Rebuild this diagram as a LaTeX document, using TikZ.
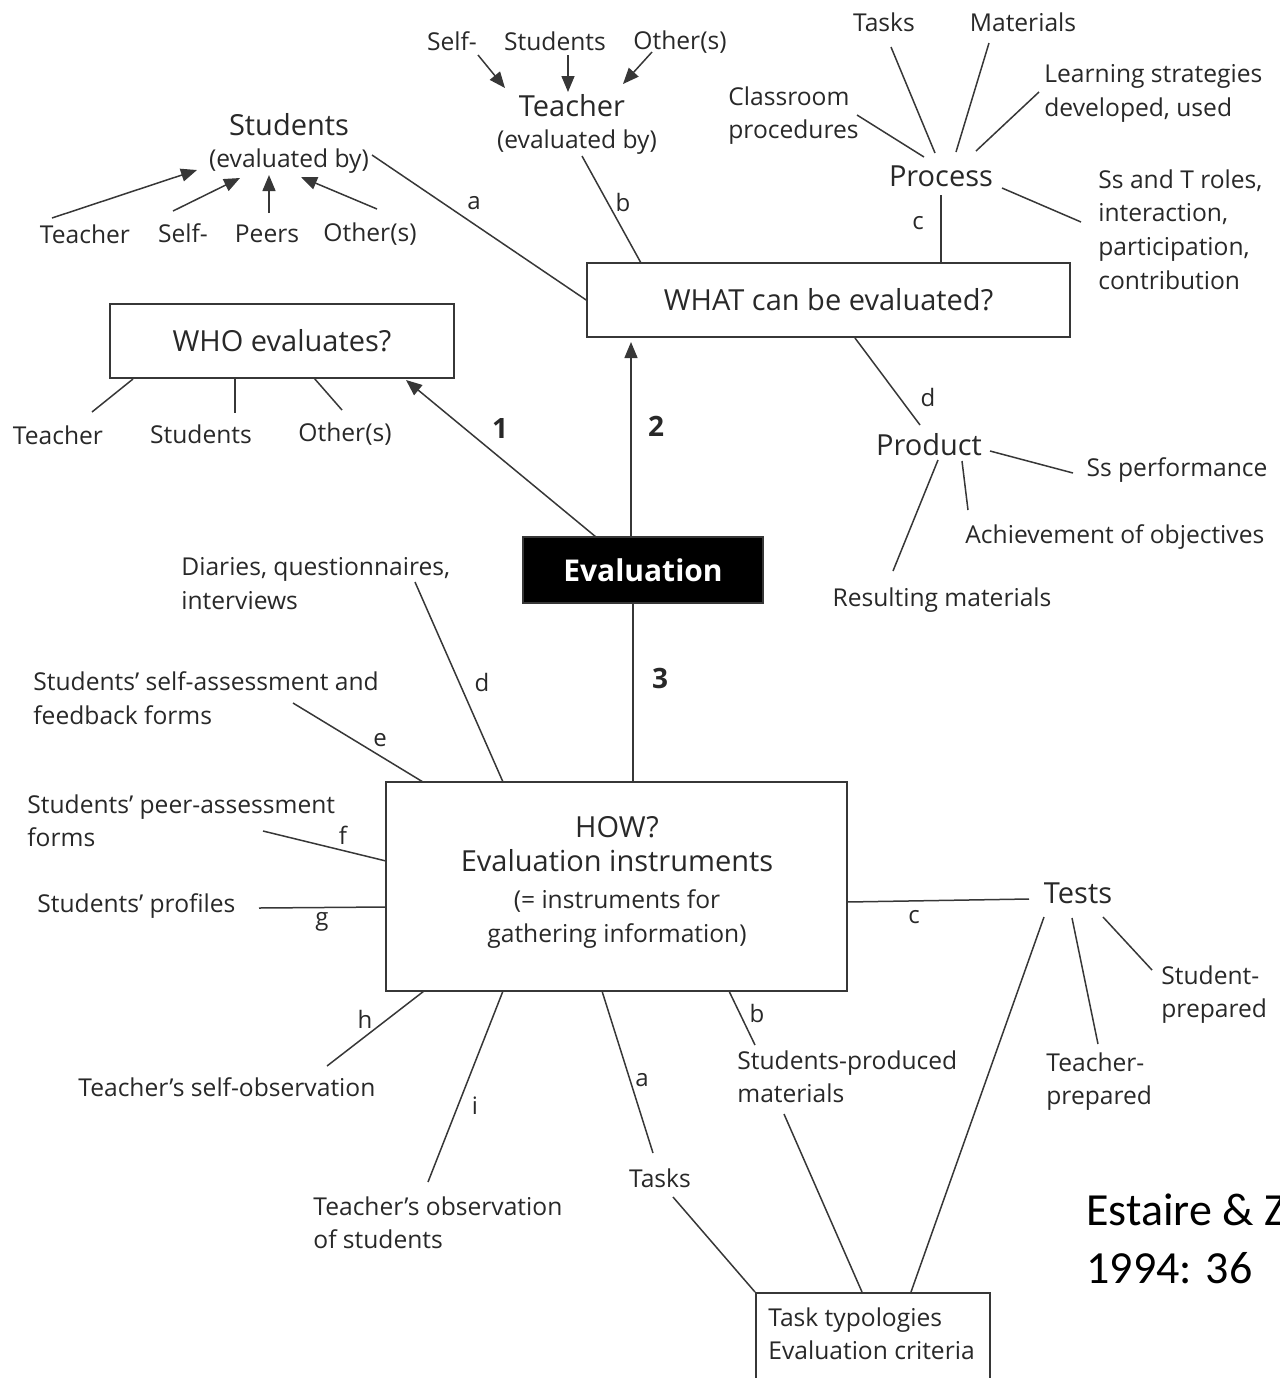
\documentclass[tikz,border=0pt]{standalone}
\usepackage{fontspec}
\setmainfont{Open Sans}
\newfontfamily\citefont{Carlito}
\usetikzlibrary{arrows.meta}
\definecolor{ink}{RGB}{40,40,40}
\definecolor{wire}{RGB}{55,55,55}

\begin{document}
\begin{tikzpicture}[x=0.5pt,y=-0.5pt,
  txt/.style={inner sep=0pt, text=ink, font=\fontsize{12.3}{16.9}\selectfont, align=left},
  big/.style={inner sep=0pt, text=ink, font=\fontsize{14.5}{17}\selectfont},
  lbl/.style={inner sep=0pt, text=ink, font=\fontsize{12}{14}\selectfont},
  num/.style={inner sep=0pt, text=ink, font=\bfseries\fontsize{14}{16}\selectfont},
  box/.style={draw=wire, line width=0.8pt, inner sep=0pt, text=ink},
  link/.style={draw=wire, line width=0.75pt},
  arr/.style={link, -{Triangle[length=8pt,width=6.5pt]}},
  cite/.style={inner sep=0pt, text=black, font=\citefont\fontsize{23}{29}\selectfont}
]
\useasboundingbox (0,0) rectangle (1280,1378);
\clip (0,0) rectangle (1280,1378);

% ---------- central boxes ----------
\node[box, fill=black, text=white, minimum width=120pt, minimum height=33pt,
      font=\bfseries\fontsize{15}{17}\selectfont] (eval) at (643,570) {Evaluation};
\node[box, minimum width=172pt, minimum height=37pt,
      font=\fontsize{14.5}{17}\selectfont] (who) at (282,341) {WHO evaluates?};
\node[box, minimum width=241.5pt, minimum height=37pt,
      font=\fontsize{14.5}{17}\selectfont] (what) at (828.5,300) {WHAT can be evaluated?};
\node[box, minimum width=230.5pt, minimum height=104.5pt] (how) at (616.5,886.5) {};
\node[inner sep=0pt, text=ink, align=center, font=\fontsize{12.3}{17}\selectfont] (howtxt) at (617,882)
  {{\fontsize{14.5}{17}\selectfont HOW?}\\
   {\fontsize{14.5}{17}\selectfont Evaluation instruments}\\[1.5pt]
   (= instruments for\\
   gathering information)};
\node[box, minimum width=117pt, minimum height=60pt, anchor=north west] (crit) at (755,1292) {};
\node[txt, anchor=north west] (crittxt) at (768,1307) {Task typologies\\Evaluation criteria};

% ---------- main branches ----------
\coordinate (e1) at (596,537);  \coordinate (w1) at (406,380);
\coordinate (e2) at (631,537);  \coordinate (w2) at (631,342);
\coordinate (e3) at (633,603);  \coordinate (h3) at (633,782);
\draw[arr] (e1) -- (w1);
\draw[arr] (e2) -- (w2);
\draw[link] (e3) -- (h3);
\node[num] (n1) at (500,428) {1};
\node[num] (n2) at (656,426) {2};
\node[num] (n3) at (660,678) {3};

% ---------- WHO evaluates ----------
\node[txt, anchor=base] (whoT) at (58,444) {Teacher};
\node[txt, anchor=base] (whoS) at (201,443) {Students};
\node[txt, anchor=base] (whoO) at (345,441) {Other(s)};
\coordinate (wT0) at (133,379); \coordinate (wT1) at (92,412);
\coordinate (wS0) at (235,379); \coordinate (wS1) at (235,413);
\coordinate (wO0) at (314,378); \coordinate (wO1) at (342,410);
\draw[link] (wT0) -- (wT1);
\draw[link] (wS0) -- (wS1);
\draw[link] (wO0) -- (wO1);

% ---------- Students (evaluated by) ----------
\node[big, anchor=base] (stu) at (289,135) {Students};
\node[txt, anchor=base] (stuby) at (289,167) {(evaluated by)};
\node[txt, anchor=base] (stuT) at (85,243) {Teacher};
\node[txt, anchor=base] (stuS) at (183,242) {Self-};
\node[txt, anchor=base] (stuP) at (267,242) {Peers};
\node[txt, anchor=base] (stuO) at (370,241) {Other(s)};
\coordinate (sT0) at (52,218);  \coordinate (sT1) at (197,170);
\coordinate (sS0) at (173,211); \coordinate (sS1) at (240,178);
\coordinate (sP0) at (269,213); \coordinate (sP1) at (269,175);
\coordinate (sO0) at (377,209); \coordinate (sO1) at (301,177);
\draw[arr] (sT0) -- (sT1);
\draw[arr] (sS0) -- (sS1);
\draw[arr] (sP0) -- (sP1);
\draw[arr] (sO0) -- (sO1);
\coordinate (la0) at (372,155);
\draw[link] (la0) -- (what.west);
\node[lbl] (la) at (474,203) {a};

% ---------- Teacher (evaluated by) ----------
\node[big, anchor=base] (tea) at (572,116) {Teacher};
\node[txt, anchor=base] (teaby) at (577,148) {(evaluated by)};
\node[txt, anchor=base] (teaS) at (452,50) {Self-};
\node[txt, anchor=base] (teaSt) at (555,50) {Students};
\node[txt, anchor=base] (teaO) at (680,49) {Other(s)};
\coordinate (tS0) at (478,55);  \coordinate (tS1) at (505,88);
\coordinate (tSt0) at (568,55); \coordinate (tSt1) at (568,92);
\coordinate (tO0) at (652,52);  \coordinate (tO1) at (623,84);
\draw[arr] (tS0) -- (tS1);
\draw[arr] (tSt0) -- (tSt1);
\draw[arr] (tO0) -- (tO1);
\coordinate (lb0) at (582,156); \coordinate (lb1) at (641,263);
\draw[link] (lb0) -- (lb1);
\node[lbl] (lb) at (623,202) {b};

% ---------- Process ----------
\node[big, anchor=base] (proc) at (941,186) {Process};
\node[txt, anchor=base] (pTasks) at (884,31) {Tasks};
\node[txt, anchor=base] (pMat) at (1023,31) {Materials};
\node[txt, anchor=north west] (pClass) at (728,86) {Classroom\\procedures};
\node[txt, anchor=north west] (pLearn) at (1044,64) {Learning strategies\\developed, used};
\node[txt, anchor=north west] (pRoles) at (1098,169) {Ss and T roles,\\interaction,\\participation,\\contribution};
\coordinate (pc0) at (857,115);  \coordinate (pc1) at (924,157);
\coordinate (pt0) at (891,47);   \coordinate (pt1) at (935,153);
\coordinate (pm0) at (989,43);   \coordinate (pm1) at (956,152);
\coordinate (pl0) at (1039,92);  \coordinate (pl1) at (976,151);
\coordinate (pr0) at (1002,188); \coordinate (pr1) at (1081,222);
\coordinate (pw0) at (941,195);  \coordinate (pw1) at (941,263);
\draw[link] (pc0) -- (pc1);
\draw[link] (pt0) -- (pt1);
\draw[link] (pm0) -- (pm1);
\draw[link] (pl0) -- (pl1);
\draw[link] (pr0) -- (pr1);
\draw[link] (pw0) -- (pw1);
\node[lbl] (lc) at (918,223) {c};

% ---------- Product ----------
\node[big, anchor=base] (prod) at (929,455) {Product};
\node[txt, anchor=base] (prPerf) at (1177,476) {Ss performance};
\node[txt, anchor=base west] (prAch) at (965,543) {Achievement of objectives};
\node[txt, anchor=base] (prRes) at (942,606) {Resulting materials};
\coordinate (dw0) at (855,338); \coordinate (dw1) at (920,425);
\coordinate (pp0) at (990,451); \coordinate (pp1) at (1073,473);
\coordinate (pa0) at (962,461); \coordinate (pa1) at (968,510);
\coordinate (pq0) at (938,460); \coordinate (pq1) at (893,571);
\draw[link] (dw0) -- (dw1);
\draw[link] (pp0) -- (pp1);
\draw[link] (pa0) -- (pa1);
\draw[link] (pq0) -- (pq1);
\node[lbl] (ld) at (928,397) {d};

% ---------- HOW: instruments ----------
\node[txt, anchor=north west] (iDia) at (181,557) {Diaries, questionnaires,\\interviews};
\node[txt, anchor=north west] (iSelf) at (33,671) {Students’ self-assessment and\\feedback forms};
\node[txt, anchor=north west] (iPeer) at (27,794) {Students’ peer-assessment\\forms};
\node[txt, anchor=base west] (iProf) at (37,912) {Students’ profiles};
\node[txt, anchor=base west] (iTso) at (78,1096) {Teacher’s self-observation};
\node[txt, anchor=north west] (iTos) at (313,1196) {Teacher’s observation\\of students};
\node[txt, anchor=base] (iTasks) at (660,1187) {Tasks};
\node[txt, anchor=north west] (iSpm) at (737,1050) {Students-produced\\materials};
\node[big, anchor=base] (tests) at (1078,903) {Tests};
\node[txt, anchor=north west] (tStu) at (1161,965) {Student-\\prepared};
\node[txt, anchor=north west] (tTea) at (1046,1052) {Teacher-\\prepared};

\coordinate (id0) at (415,582); \coordinate (id1) at (503,782);
\coordinate (ie0) at (293,703); \coordinate (ie1) at (423,782);
\coordinate (if0) at (263,831); \coordinate (if1) at (386,861);
\coordinate (ig0) at (259,908); \coordinate (ig1) at (386,907);
\coordinate (ih0) at (424,991); \coordinate (ih1) at (327,1066);
\coordinate (ii0) at (503,991); \coordinate (ii1) at (428,1182);
\coordinate (ia0) at (602,991); \coordinate (ia1) at (653,1153);
\coordinate (ib0) at (729,991); \coordinate (ib1) at (755,1045);
\coordinate (ic0) at (847,902); \coordinate (ic1) at (1029,899);
\draw[link] (id0) -- (id1);
\draw[link] (ie0) -- (ie1);
\draw[link] (if0) -- (if1);
\draw[link] (ig0) -- (ig1);
\draw[link] (ih0) -- (ih1);
\draw[link] (ii0) -- (ii1);
\draw[link] (ia0) -- (ia1);
\draw[link] (ib0) -- (ib1);
\draw[link] (ic0) -- (ic1);
\node[lbl] (lhd) at (482,682) {d};
\node[lbl] (lhe) at (380,740) {e};
\node[lbl] (lhf) at (343,835) {f};
\node[lbl, anchor=base] (lhg) at (322,925) {g};
\node[lbl] (lhh) at (365,1019) {h};
\node[lbl] (lhi) at (475,1106) {i};
\node[lbl] (lha) at (642,1080) {a};
\node[lbl] (lhb) at (757,1013) {b};
\node[lbl] (lhc) at (914,917) {c};

% tests and links to the criteria box
\coordinate (ts0) at (1103,917); \coordinate (ts1) at (1152,970);
\coordinate (tt0) at (1072,918); \coordinate (tt1) at (1098,1044);
\coordinate (tc0) at (1044,917); \coordinate (tc1) at (911,1292);
\coordinate (kt0) at (673,1197); \coordinate (kt1) at (755,1292);
\coordinate (km0) at (784,1114); \coordinate (km1) at (862,1292);
\draw[link] (ts0) -- (ts1);
\draw[link] (tt0) -- (tt1);
\draw[link] (tc0) -- (tc1);
\draw[link] (kt0) -- (kt1);
\draw[link] (km0) -- (km1);

% ---------- source ----------
\node[cite, anchor=base west] (src1) at (1086,1225) {Estaire \& Z};
\node[cite, anchor=base west] (src2) at (1086,1283) {1994: 36};
\end{tikzpicture}
\end{document}
